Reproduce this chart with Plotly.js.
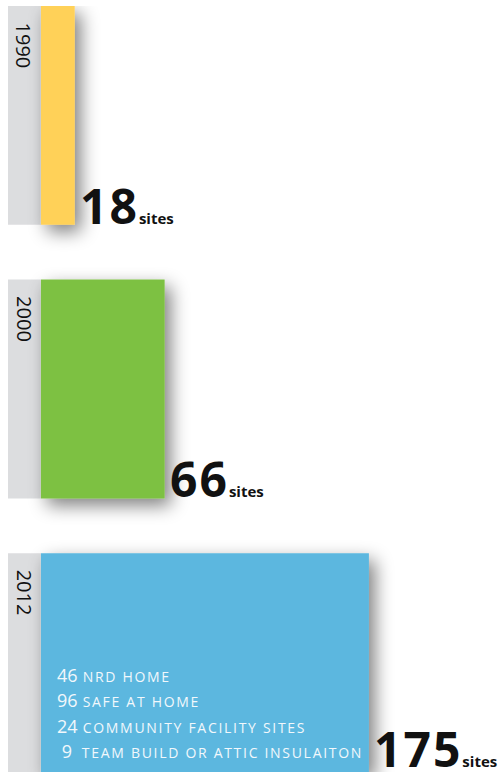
<!DOCTYPE html>
<html>
<head>
<meta charset="utf-8">
<script src="https://cdn.plot.ly/plotly-3.0.1.min.js"></script>
<style>
  html, body { margin: 0; padding: 0; background: #ffffff; }
  #chart { width: 501px; height: 775px; }
  .js-plotly-plot .barlayer .point path { filter: url(#barshadow); }
</style>
</head>
<body>
<svg width="0" height="0" style="position:absolute">
  <defs>
    <filter id="barshadow" filterUnits="userSpaceOnUse" x="-100" y="-100" width="800" height="1100">
      <feGaussianBlur in="SourceAlpha" stdDeviation="9"/>
      <feOffset dx="6" dy="7" result="b"/>
      <feComponentTransfer><feFuncA type="linear" slope="0.5"/></feComponentTransfer>
      <feMerge><feMergeNode/><feMergeNode in="SourceGraphic"/></feMerge>
    </filter>
  </defs>
</svg>
<div id="chart"></div>
<script>
// ---- data ----
const years = ['1990', '2000', '2012'];
const sites = [18, 66, 175];
const barColors = ['#FFD158', '#7DC143', '#5BB7DF'];
const breakdownCounts = [46, 96, 24, 9];
const breakdownLabels = ['NRD HOME', 'SAFE AT HOME', 'COMMUNITY FACILITY SITES', 'TEAM BUILD OR ATTIC INSULAITON'];

// ---- layout helpers ----
const xMin = -17.6, xMax = 245.5;
const half = 0.4;

const trace = {
  type: 'bar',
  orientation: 'h',
  x: sites,
  y: years,
  width: 2 * half,
  marker: { color: barColors, line: { width: 0 } },
  hoverinfo: 'none'
};

const shapes = years.map((yr, i) => ({
  type: 'rect', layer: 'below', xref: 'x', yref: 'y',
  x0: xMin, x1: 0, y0: i - half, y1: i + half,
  fillcolor: '#DCDDDF', line: { width: 0 }
}));

const annotations = [];
years.forEach((yr, i) => {
  annotations.push({
    xref: 'x', yref: 'y', x: xMin / 2, y: i - half,
    xanchor: 'center', yanchor: 'top', yshift: -15,
    text: yr, textangle: 90, showarrow: false,
    font: { family: 'Open Sans, sans-serif', size: 20, color: '#111111' }
  });
  annotations.push({
    xref: 'x', yref: 'y', x: sites[i], y: i + half,
    xanchor: 'left', yanchor: 'bottom', xshift: 3, yshift: i === years.length - 1 ? -11 : -15,
    text: '<b><span style="letter-spacing:2px">' + sites[i] + '</span></b><b><span style="font-size:15px">sites</span></b>',
    showarrow: false,
    font: { family: 'Open Sans, sans-serif', size: 48, color: '#111111' }
  });
});

const lines = breakdownCounts.map((c, k) => {
  const num = c < 10 ? '\u2008' + c + '\u2008' : String(c);
  return '<span style="font-size:18px">' + num + '</span> ' +
         '<span style="font-size:14px;letter-spacing:1.7px">' + breakdownLabels[k] + '</span>';
});
annotations.push({
  xref: 'x', yref: 'y', x: 0, y: 2 + half,
  xanchor: 'left', yanchor: 'bottom', xshift: 14, yshift: 6,
  align: 'left', showarrow: false,
  text: lines.join('<br>'),
  font: { family: 'Open Sans, sans-serif', size: 19.6, color: '#F2F8FC' }
});

const layout = {
  width: 501, height: 775,
  margin: { l: 8, r: 0, t: 6, b: 3, pad: 0 },
  paper_bgcolor: '#ffffff', plot_bgcolor: 'rgba(0,0,0,0)',
  showlegend: false,
  xaxis: { range: [xMin, xMax], visible: false, fixedrange: true },
  yaxis: { type: 'category', range: [2 + half, -half], visible: false, fixedrange: true },
  shapes: shapes,
  annotations: annotations
};

Plotly.newPlot('chart', [trace], layout, { displayModeBar: false, staticPlot: true });
</script>
</body>
</html>
